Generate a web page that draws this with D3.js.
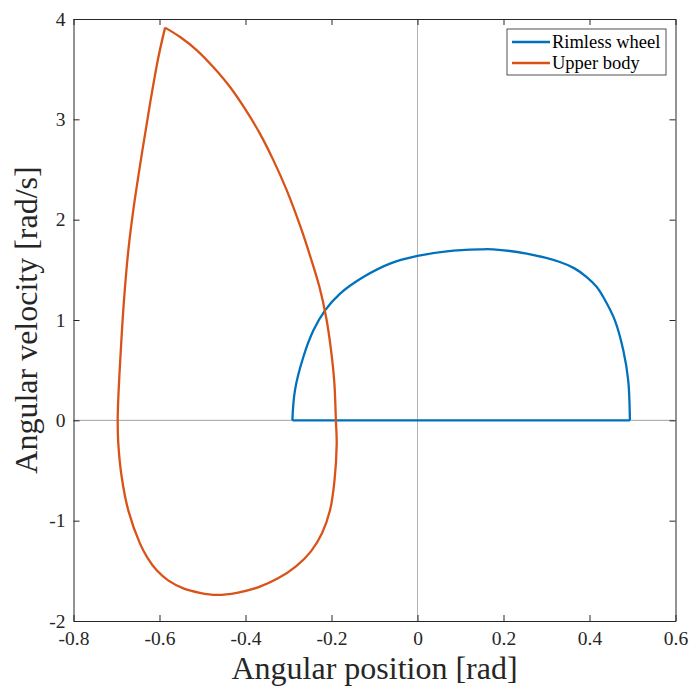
<!DOCTYPE html>
<html>

<head>
    <meta charset="UTF-8">
    <title>Phase portrait</title>
    <style>
        body {
            margin: 0;
            background-color: white;
        }
        svg {
            display: block;
        }
    </style>
</head>

<body>
    <svg></svg>

    <script src="https://d3js.org/d3.v7.min.js"></script>

    <script>

        // series names
        let seriesNames = ["Rimless wheel", "Upper body"];

        // rimless wheel: arc from left corner to right corner, closed along y = 0
        let wheelX = [-0.291, -0.285, -0.2655, -0.242, -0.215, -0.180, -0.126, -0.064, 0, 0.068, 0.145, 0.176, 0.254, 0.331, 0.364, 0.3935, 0.4165, 0.432, 0.459, 0.4786, 0.490, 0.494];
        let wheelY = [0, 0.299, 0.631, 0.897, 1.096, 1.263, 1.428, 1.562, 1.638, 1.684, 1.704, 1.704, 1.661, 1.578, 1.517, 1.428, 1.331, 1.229, 0.997, 0.698, 0.399, 0];

        // upper body: starts and ends at the peak
        let upperX = [-0.587, -0.552, -0.513, -0.475, -0.436, -0.404, -0.3665, -0.335, -0.304, -0.272, -0.249, -0.228, -0.2126, -0.201, -0.1933, -0.1898,
            -0.1879, -0.193, -0.2035, -0.2221, -0.2477, -0.2826, -0.3244, -0.3709, -0.4198, -0.467,
            -0.5063, -0.5444, -0.5791, -0.6065, -0.6279, -0.6453, -0.6726, -0.6879, -0.6958, -0.6972,
            -0.696, -0.690, -0.6826, -0.6725, -0.661, -0.641, -0.622, -0.6025, -0.587];
        let upperY = [3.914, 3.820, 3.688, 3.521, 3.322, 3.123, 2.858, 2.591, 2.292, 1.927, 1.628, 1.329, 1.030, 0.698, 0.369, 0,
            -0.232, -0.598, -0.897, -1.126, -1.306, -1.455, -1.575, -1.665, -1.719, -1.740,
            -1.719, -1.675, -1.598, -1.495, -1.370, -1.229, -0.897, -0.565, -0.232, 0,
            0.199, 0.698, 1.196, 1.694, 2.093, 2.658, 3.157, 3.621, 3.914];

        // ticks
        let xTicks = [-0.8, -0.6, -0.4, -0.2, 0, 0.2, 0.4, 0.6];
        let xTickLabels = ["-0.8", "-0.6", "-0.4", "-0.2", "0", "0.2", "0.4", "0.6"];
        let yTicks = [-2, -1, 0, 1, 2, 3, 4];
        let yTickLabels = ["-2", "-1", "0", "1", "2", "3", "4"];

        let width = 693, height = 688;
        let pLeft = 73.5, pRight = 675.5, pTop = 19, pBottom = 621;
        let colors = ["#0072BD", "#D95319"];
        let axisColor = "#262626";
        let serif = "'Liberation Serif', 'Times New Roman', serif";

        let svg = d3.select("svg")
            .attr("width", width)
            .attr("height", height)
            .attr("font-family", serif);

        let x = d3.scaleLinear().domain([-0.8, 0.6]).range([pLeft, pRight]);
        let y = d3.scaleLinear().domain([-2, 4]).range([pBottom, pTop]);

        // zero lines
        svg.append("line")
            .attr("x1", x(0)).attr("x2", x(0))
            .attr("y1", pTop).attr("y2", pBottom)
            .attr("stroke", "#b3b3b3").attr("stroke-width", 1);
        svg.append("line")
            .attr("x1", pLeft).attr("x2", pRight)
            .attr("y1", y(0)).attr("y2", y(0))
            .attr("stroke", "#a0a0a0").attr("stroke-width", 1);

        let curve = d3.line()
            .x(d => x(d[0]))
            .y(d => y(d[1]))
            .curve(d3.curveCatmullRom.alpha(0.5));
        let straight = d3.line()
            .x(d => x(d[0]))
            .y(d => y(d[1]));

        let wheel = wheelX.map((v, i) => [v, wheelY[i]]);
        let upper = upperX.map((v, i) => [v, upperY[i]]);

        // rimless wheel
        svg.append("path")
            .attr("d", curve(wheel))
            .attr("fill", "none")
            .attr("stroke", colors[0])
            .attr("stroke-width", 2.3);
        svg.append("path")
            .attr("d", straight([wheel[wheel.length - 1], wheel[0]]))
            .attr("fill", "none")
            .attr("stroke", colors[0])
            .attr("stroke-width", 2.3);

        // upper body
        svg.append("path")
            .attr("d", curve(upper))
            .attr("fill", "none")
            .attr("stroke", colors[1])
            .attr("stroke-width", 2.3)
            .attr("stroke-linejoin", "round");

        // axes, ticks inside on all four sides
        let fontSize = "19.5px";
        let xb = svg.append("g")
            .attr("transform", "translate(0," + pBottom + ")")
            .call(d3.axisBottom(x).tickValues(xTicks).tickSizeInner(-6).tickSizeOuter(0).tickPadding(10)
                .tickFormat((d, i) => xTickLabels[i]));
        let yl = svg.append("g")
            .attr("transform", "translate(" + pLeft + ",0)")
            .call(d3.axisLeft(y).tickValues(yTicks).tickSizeInner(-6).tickSizeOuter(0).tickPadding(8)
                .tickFormat((d, i) => yTickLabels[i]));
        let xt = svg.append("g")
            .attr("transform", "translate(0," + pTop + ")")
            .call(d3.axisTop(x).tickValues(xTicks).tickSizeInner(-6).tickSizeOuter(0).tickFormat(""));
        let yr = svg.append("g")
            .attr("transform", "translate(" + pRight + ",0)")
            .call(d3.axisRight(y).tickValues(yTicks).tickSizeInner(-6).tickSizeOuter(0).tickFormat(""));

        [xb, yl, xt, yr].forEach(g => {
            g.attr("font-family", serif).attr("font-size", fontSize);
            g.selectAll("path, line").attr("stroke", axisColor).attr("stroke-width", 1);
            g.selectAll("text").attr("fill", axisColor);
        });

        // axis labels
        svg.append("text")
            .attr("x", (pLeft + pRight) / 2)
            .attr("y", 679)
            .attr("text-anchor", "middle")
            .attr("font-size", "32px")
            .attr("fill", axisColor)
            .text("Angular position [rad]");
        svg.append("text")
            .attr("transform", "translate(37," + (pTop + pBottom) / 2 + ") rotate(-90)")
            .attr("text-anchor", "middle")
            .attr("font-size", "32px")
            .attr("fill", axisColor)
            .text("Angular velocity [rad/s]");

        // legend
        let legend = svg.append("g").attr("transform", "translate(507,29)");
        legend.append("rect")
            .attr("width", 159)
            .attr("height", 46)
            .attr("fill", "white")
            .attr("stroke", axisColor)
            .attr("stroke-width", 0.8);
        seriesNames.forEach((name, i) => {
            let ly = 13 + i * 21;
            legend.append("line")
                .attr("x1", 5).attr("x2", 43)
                .attr("y1", ly).attr("y2", ly)
                .attr("stroke", colors[i])
                .attr("stroke-width", 2.3);
            legend.append("text")
                .attr("x", 45)
                .attr("y", ly)
                .attr("dy", "0.35em")
                .attr("font-size", "18.5px")
                .attr("fill", "black")
                .text(name);
        });

    </script>

</body>

</html>
